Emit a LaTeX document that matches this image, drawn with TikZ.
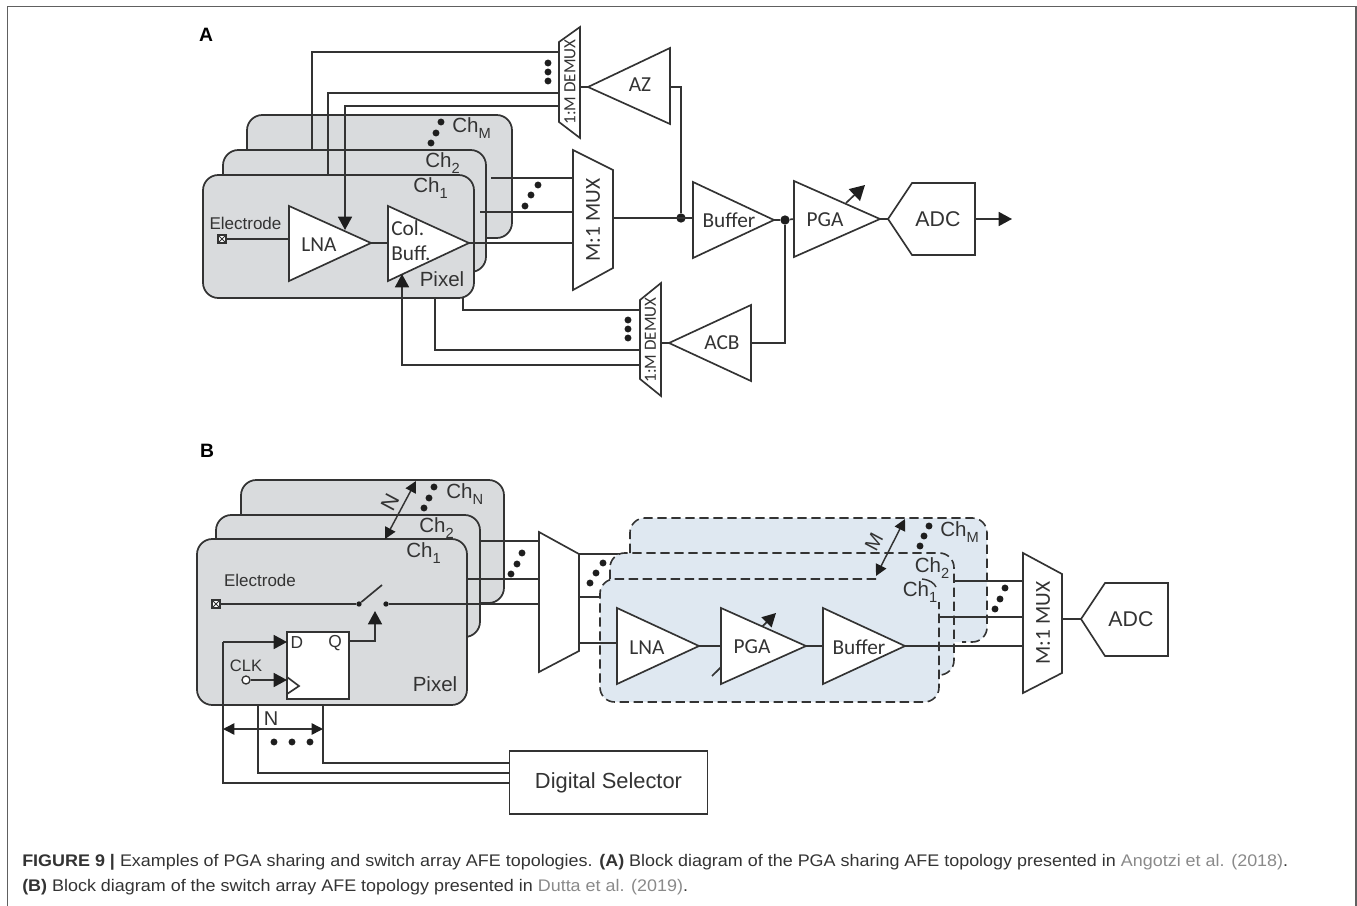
\documentclass[tikz,border=0pt]{standalone}
\usepackage{fontspec}
\usepackage{graphicx}
\setmainfont{Liberation Sans}
\newfontfamily\cali{Carlito}
\usetikzlibrary{arrows.meta}
\definecolor{ink}{HTML}{333333}
\definecolor{pixgrey}{HTML}{D9DBDD}
\definecolor{chblue}{HTML}{DFE8F1}
\definecolor{citegrey}{HTML}{8A8A8A}
\definecolor{captxt}{HTML}{333333}
\definecolor{markblack}{HTML}{1E1E1E}
\tikzset{
  wire/.style={draw=ink,line width=1.25pt},
  tipwire/.style={wire,-{Triangle[length=10pt,width=10.5pt,color=markblack]}},
  thinboth/.style={draw=ink,line width=1.1pt,{Triangle[length=8.5pt,width=8.5pt,color=markblack]}-{Triangle[length=8.5pt,width=8.5pt,color=markblack]}},
  pixbox/.style={draw=ink,line width=1.3pt,fill=pixgrey,rounded corners=11.5pt},
  blockshape/.style={draw=ink,line width=1.25pt,fill=white,line join=miter},
  bluefill/.style={fill=chblue,rounded corners=11pt},
  dashedge/.style={draw=ink,line width=1.2pt,dash pattern=on 7pt off 3.5pt,rounded corners=11pt},
  dotmark/.style={circle,fill=markblack,inner sep=0pt,minimum size=5.2pt},
  juncmark/.style={circle,fill=markblack,inner sep=0pt,minimum size=7pt},
  swmark/.style={circle,fill=markblack,inner sep=0pt,minimum size=4pt},
  txt/.style={inner sep=0pt,text=ink},
  chlab/.style={txt,font=\fontsize{15.4}{16}\selectfont},
  arlab/.style={txt,font=\fontsize{12.75}{14}\selectfont},
  callab/.style={txt,font=\cali\fontsize{16}{18}\selectfont},
  demuxlab/.style={txt,font=\cali\fontsize{12.8}{14}\selectfont,rotate=90},
  muxlab/.style={txt,font=\cali\fontsize{16}{18}\selectfont,rotate=90},
  adclab/.style={txt,font=\fontsize{16}{18}\selectfont},
  panel/.style={inner sep=0pt,font=\bfseries\fontsize{14.5}{16}\selectfont,text=black},
  capline/.style={inner sep=0pt,anchor=west,text=captxt,font=\fontsize{12.6}{14}\selectfont},
}
% amplifier: name, back x, top y, bottom y, tip x, tip y
\newcommand{\ampl}[6]{%
  \coordinate (#1-tip) at (#5,#6);
  \coordinate (#1-in) at (#2,#6);
  \draw[blockshape] (#2,#3) -- (#5,#6) -- (#2,#4) -- cycle;
}
% sub-scripted channel label
\newcommand{\chsub}[1]{Ch\raisebox{-0.28em}{\fontsize{11}{12}\selectfont #1}}
% three dots
\newcommand{\threedots}[7]{%
  \node[dotmark] (#1a) at (#2,#3) {};
  \node[dotmark] (#1b) at (#4,#5) {};
  \node[dotmark] (#1c) at (#6,#7) {};
}
% electrode square
\newcommand{\electrode}[3]{%
  \node[draw=ink,line width=.9pt,fill=white,inner sep=0pt,minimum size=6pt] (#1) at (#2,#3) {};
  \draw[ink,line width=.6pt] (#1.north west) -- (#1.south east) (#1.north east) -- (#1.south west);
}
\begin{document}
\begin{tikzpicture}[x=0.75pt,y=-0.75pt]
\useasboundingbox (0,0) rectangle (1357,906);
% outer frame
\coordinate (fbl) at (7.5,906);
\coordinate (ftl) at (7.5,6.5);
\coordinate (ftr) at (1356,6.5);
\coordinate (fbr) at (1356,906);
\draw[draw=gray!75!black,line width=1.1pt] (fbl) -- (ftl) -- (ftr) -- (fbr);
\node[panel] (panelA) at (206,35) {A};
\node[panel] (panelB) at (207,451) {B};

% ===== Panel A =====
\draw[pixbox] (247,115) rectangle (512,238);
\node[chlab,anchor=west] (achM) at (452,128) {\chsub{M}};
\threedots{adm}{441}{122}{436}{133}{431}{143}
% wires behind front cards
\coordinate (aCh2top) at (312,150);
\coordinate (aDm1) at (559,52);
\coordinate (aDm2) at (559,93);
\coordinate (aDm3) at (559,106);
\coordinate (aCh1top) at (328,175);
\draw[pixbox] (223,150) rectangle (486,272);
\node[chlab,anchor=west] (ach2) at (425,163) {\chsub{2}};
\draw[wire] (aCh2top) |- (aDm1);
\draw[pixbox] (203,175) rectangle (474,298);
\node[chlab,anchor=west] (ach1) at (413,188) {\chsub{1}};
\draw[wire] (aCh1top) |- (aDm2);
\node[arlab] (aelab) at (245.5,223) {Electrode};
\node[chlab] (apix) at (442,279) {Pixel};
\electrode{aele}{222}{239}
% amplifiers
\coordinate (alnaE) at (289,239);
\draw[wire] (aele) -- (alnaE);
\coordinate (aMuxI1) at (573,178);
\coordinate (aMuxI2) at (573,212);
\coordinate (aMuxI3) at (573,243);
\coordinate (aS1) at (491,178);
\coordinate (aS2) at (480,212);
\draw[wire] (aS1) -- (aMuxI1);
\draw[wire] (aS2) -- (aMuxI2);
\ampl{alna}{289}{206}{281}{371}{243}
\ampl{acol}{388}{206}{281}{469}{243}
\draw[wire] (alna-tip) -- (acol-in);
\draw[wire] (acol-tip) -- (aMuxI3);
\node[callab] (alnal) at (319,245) {LNA};
\node[callab,anchor=west] (acoll) at (391,228) {Col.};
\node[callab,anchor=west] (abufl) at (391,253) {Buff.};
% arrows into amplifiers
\coordinate (aLnaArr) at (345,230);
\coordinate (aColArr) at (402,274);
\coordinate (aDmB3) at (640,365);
\draw[tipwire] (aDm3) -| (aLnaArr);
\draw[tipwire] (aDmB3) -| (aColArr);
\coordinate (aB2top) at (435,298);
\coordinate (aB1top) at (463,298);
\coordinate (aDmB1) at (640,310);
\coordinate (aDmB2) at (640,350);
\draw[wire] (aB1top) |- (aDmB1);
\draw[wire] (aB2top) |- (aDmB2);
% M:1 MUX
\draw[blockshape] (573,150) -- (613,170) -- (613,268) -- (573,290) -- cycle;
\node[muxlab] (amux) at (593,220) {M:1 MUX};
\threedots{amd}{538}{185}{531}{195}{525}{206}
% top demux
\draw[blockshape] (559,42) -- (580,27) -- (580,138) -- (559,122) -- cycle;
\node[demuxlab] (adem) at (570,82) {1:M DEMUX};
\threedots{atd}{548}{63}{548}{72}{548}{81}
\ampl{aaz}{670}{48}{124}{588}{87}
\node[callab] (aazl) at (640,85) {AZ};
\coordinate (aDemOut) at (580,87);
\draw[wire] (aDemOut) -- (aaz-tip);
% buffer PGA ADC
\coordinate (aMuxOut) at (613,218);
\node[juncmark] (aj1) at (681,218) {};
\coordinate (aAzOut) at (670,87);
\draw[wire] (aAzOut) -| (aj1);
\coordinate (aBufIn) at (693,218);
\draw[wire] (aMuxOut) -- (aBufIn);
\ampl{abuf}{693}{182}{258}{774}{220}
\node[callab] (abufn) at (729,220) {Buffer};
\node[juncmark] (aj2) at (785,220) {};
\coordinate (aArrS) at (846,203);
\coordinate (aArrE) at (865,185);
\draw[wire] (abuf-tip) -- (aj2);
\ampl{apga}{794}{181}{257}{880}{219}
\draw[wire,-{Triangle[length=11pt,width=12pt,color=markblack]}] (aArrS) -- (aArrE);
\draw[wire] (aj2) -- (apga-in);
\node[callab] (apgal) at (825,220) {PGA};
\coordinate (aAdcTip) at (888,219);
\coordinate (aAdcOut) at (975,219);
\coordinate (aOut) at (1012,219);
\draw[blockshape] (aAdcTip) -- (912,183) -- (975,183) -- (975,255) -- (912,255) -- cycle;
\node[adclab] (aadc) at (938,219) {ADC};
\draw[wire] (apga-tip) -- (aAdcTip);
\draw[tipwire] (aAdcOut) -- (aOut);
% bottom demux
\draw[blockshape] (640,300) -- (661,283) -- (661,396) -- (640,379) -- cycle;
\node[demuxlab] (adeb) at (650.5,340) {1:M DEMUX};
\threedots{abd}{628}{320}{628}{329}{628}{338}
\ampl{aacb}{751}{305}{381}{669}{343}
\node[callab] (aacbl) at (722,343) {ACB};
\coordinate (aDebOut) at (661,343);
\coordinate (aAcbOut) at (751,343);
\draw[wire] (aDebOut) -- (aacb-tip);
\draw[wire] (aAcbOut) -| (aj2);

% ===== Panel B =====
\draw[pixbox] (241,480) rectangle (504,603);
\node[chlab,anchor=west] (bchN) at (446,494) {\chsub{N}};
\threedots{bdn}{434}{487}{429}{498}{424}{508}
\draw[pixbox] (216,515) rectangle (480,637);
\node[chlab,anchor=west] (bch2) at (419,528) {\chsub{2}};
\draw[pixbox] (197,539) rectangle (467,705);
\node[chlab,anchor=west] (bch1) at (406,553) {\chsub{1}};
\coordinate (bNa) at (385,539);
\coordinate (bNb) at (416,481);
\draw[thinboth] (bNa) -- (bNb);
\node[txt,rotate=62,font=\fontsize{16}{16}\selectfont] (bNl) at (390,502) {N};
\node[arlab] (belab) at (260,580) {Electrode};
\electrode{bele}{216}{604}
\node[swmark] (bsw1) at (359,604) {};
\node[swmark] (bsw2) at (386,604) {};
\coordinate (bswe) at (382,585);
\coordinate (bMi1) at (539,541);
\coordinate (bMi2) at (539,579);
\coordinate (bMi3) at (539,604);
\coordinate (bS1) at (480,541);
\coordinate (bS2) at (467,579);
\draw[wire] (bele) -- (bsw1);
\draw[wire] (bsw1) -- (bswe);
\draw[wire] (bsw2) -- (bMi3);
\draw[wire] (bS1) -- (bMi1);
\draw[wire] (bS2) -- (bMi2);
\threedots{bmd}{522}{553}{517}{564}{511}{574}
\node[chlab] (bpix) at (435,684) {Pixel};
% flip-flop
\node[draw=ink,line width=1.25pt,fill=white,inner sep=0pt,minimum width=46.5pt,minimum height=50.25pt] (bff) at (318,665.5) {};
\draw[blockshape,fill=none] (287,677) -- (299,686) -- (287,694);
\node[txt,font=\fontsize{13}{14}\selectfont] (bd) at (297,643) {D};
\node[txt,font=\fontsize{13}{14}\selectfont] (bq) at (335,643) {Q};
\node[txt,font=\fontsize{12.4}{14}\selectfont] (bclk) at (246,666) {CLK};
\node[circle,draw=ink,line width=1pt,fill=white,inner sep=0pt,minimum size=6pt] (bclkc) at (246,680) {};
\coordinate (bclkin) at (287,680);
\draw[tipwire] (bclkc) -- (bclkin);
\coordinate (bq1) at (349,641);
\coordinate (bqa) at (375,611);
\draw[tipwire] (bq1) -| (bqa);
% digital selector and bus
\node[draw=ink,line width=1.25pt,fill=white,inner sep=0pt,minimum width=148.5pt,minimum height=47.25pt,font=\fontsize{16.4}{18}\selectfont,text=ink] (bsel) at (608.5,782.5) {Digital Selector};
\coordinate (bdin) at (287,642);
\coordinate (bs1) at (509,783);
\coordinate (bs2) at (509,773);
\coordinate (bs3) at (509,763);
\coordinate (bt1) at (223,642);
\coordinate (bt2) at (258,705);
\coordinate (bt3) at (323,705);
\draw[wire] (bs1) -| (bt1);
\draw[tipwire] (bt1) -- (bdin);
\draw[wire] (bs2) -| (bt2);
\draw[wire] (bs3) -| (bt3);
\coordinate (bNl1) at (223,729);
\coordinate (bNl2) at (323,729);
\draw[thinboth] (bNl1) -- (bNl2);
\node[txt,font=\fontsize{15}{16}\selectfont] (bN2) at (271,719) {N};
\threedots{bbd}{274}{742}{292}{742}{310}{742}
% first mux and outgoing wires
\coordinate (bO1) at (579,554);
\coordinate (bO2) at (579,597);
\coordinate (bO3) at (579,643);
\coordinate (bE1) at (621,554);
\coordinate (bE2) at (600,597);
\coordinate (bE3) at (617,643);
\draw[wire] (bO1) -- (bE1);
\draw[wire] (bO2) -- (bE2);
% blue cards
\path[bluefill] (630,518) rectangle (987,642);
\path[bluefill] (610,553) rectangle (954,675);
\path[bluefill] (600,579) rectangle (939,702);
\coordinate (bM1s) at (630,553);
\coordinate (bM1e) at (962,642);
\draw[dashedge] (bM1s) -- (630,518) -- (987,518) -- (987,642) -- (bM1e);
\coordinate (bM2s) at (610,579);
\coordinate (bM2e) at (939,675);
\draw[dashedge] (bM2s) -- (610,553) -- (954,553) -- (954,675) -- (bM2e);
\coordinate (bM3s) at (876,579);
\coordinate (bM3e) at (939,602);
\draw[dashedge] (bM3s) -- (600,579) -- (600,702) -- (939,702) -- (bM3e);
\coordinate (bArc1) at (922,579);
\coordinate (bArc2) at (936,587);
\draw[wire,line width=1.1pt] (bArc1) .. controls (930,580) and (934,583) .. (bArc2);
\draw[blockshape] (539,532) -- (579,554) -- (579,651) -- (539,672) -- cycle;
\draw[wire] (bO3) -- (bE3);
\threedots{bod}{603}{563}{596}{573}{590}{583}
\node[chlab,anchor=west] (bchM) at (940,532) {\chsub{M}};
\node[chlab] (bch2b) at (932,568) {\chsub{2}};
\node[chlab] (bch1b) at (920,592) {\chsub{1}};
\threedots{bcd}{929}{526}{924}{536}{920}{546}
\coordinate (bMa) at (876,576);
\coordinate (bMb) at (905,519);
\draw[thinboth] (bMa) -- (bMb);
\node[txt,rotate=62,font=\fontsize{15}{15}\selectfont] (bMl) at (874,542) {M};
% amps in blue
\coordinate (bPs) at (712,676);
\coordinate (bPe) at (776,613);
\draw[tipwire] (bPs) -- (bPe);
\ampl{blna}{617}{608}{684}{699}{646}
\ampl{bpga}{721}{608}{684}{806}{646}
\ampl{bbuf}{823}{608}{684}{905}{646}
\draw[wire] (blna-tip) -- (bpga-in);
\draw[wire] (bpga-tip) -- (bbuf-in);
\node[callab] (blnal) at (647,648) {LNA};
\node[callab] (bpgal) at (752,647) {PGA};
\node[callab] (bbufl) at (859,647) {Buffer};
% output mux
\coordinate (bX1) at (954,581);
\coordinate (bX2) at (939,617);
\coordinate (bY1) at (1023,581);
\coordinate (bY2) at (1023,617);
\coordinate (bY3) at (1023,646);
\draw[wire] (bX1) -- (bY1);
\draw[wire] (bX2) -- (bY2);
\draw[wire] (bbuf-tip) -- (bY3);
\draw[blockshape] (1023,553) -- (1062,574) -- (1062,673) -- (1023,693) -- cycle;
\node[muxlab] (bmux) at (1043,623) {M:1 MUX};
\threedots{bxd}{1005}{588}{1000}{599}{995}{609}
\coordinate (bMo) at (1062,619);
\coordinate (bAt) at (1081,619);
\draw[wire] (bMo) -- (bAt);
\draw[blockshape] (bAt) -- (1105,583) -- (1168,583) -- (1168,656) -- (1105,656) -- cycle;
\node[adclab] (badc) at (1131,619) {ADC};

% ===== Caption =====
\node[capline] (cap1) at (22,862) {\scalebox{1.068}[1]{\textbf{FIGURE 9 |} Examples of PGA sharing and switch array AFE topologies. \textbf{(A)} Block diagram of the PGA sharing AFE topology presented in \textcolor{citegrey}{Angotzi et al. (2018)}.}};
\node[capline] (cap2) at (22,887) {\scalebox{1.068}[1]{\textbf{(B)} Block diagram of the switch array AFE topology presented in \textcolor{citegrey}{Dutta et al. (2019)}.}};
\end{tikzpicture}
\end{document}
